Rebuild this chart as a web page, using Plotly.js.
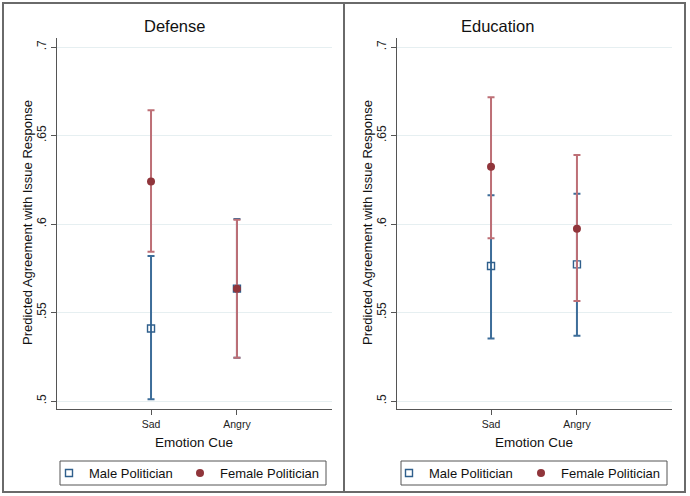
<!DOCTYPE html>
<html>
<head>
<meta charset="utf-8">
<script src="https://cdn.plot.ly/plotly-3.0.1.min.js"></script>
<style>html,body{margin:0;padding:0;background:#fff;}#chart{width:690px;height:496px;}</style>
</head>
<body>
<div id="chart"></div>
<script>
// ---- data ----
const categories = ['Sad', 'Angry'];
const panelTitles = ['Defense', 'Education'];
const seriesNames = ['Male Politician', 'Female Politician'];
const yTickVals = [0.5, 0.55, 0.6, 0.65, 0.7];
const yTickText = ['.5', '.55', '.6', '.65', '.7'];

// Defense
const defMaleEst = [0.541, 0.5635];
const defMaleLo = [0.501, 0.5245];
const defMaleHi = [0.582, 0.6028];
const defFemaleEst = [0.624, 0.5635];
const defFemaleLo = [0.5843, 0.5245];
const defFemaleHi = [0.6643, 0.6024];

// Education
const eduMaleEst = [0.5763, 0.5772];
const eduMaleLo = [0.5354, 0.5369];
const eduMaleHi = [0.6162, 0.6171];
const eduFemaleEst = [0.6324, 0.5974];
const eduFemaleLo = [0.5919, 0.5565];
const eduFemaleHi = [0.6716, 0.6390];

// ---- styling ----
const FONT = 'Liberation Sans, Arial, Helvetica, sans-serif';
const BLUE = '#2f5f8c';
const BLUE_CI = '#3d6d99';
const RED = '#90353b';
const RED_CI = '#bd6f76';
const xPos = categories.map((c, i) => i + 1);

function mkTrace(est, lo, hi, which, axisSuffix, legendId) {
  const male = which === 0;
  return {
    type: 'scatter', mode: 'markers',
    x: xPos, y: est,
    name: seriesNames[which],
    xaxis: 'x' + axisSuffix, yaxis: 'y' + axisSuffix,
    legend: legendId, showlegend: true,
    marker: male
      ? {symbol: 'square-open', size: 7, color: BLUE, line: {color: BLUE, width: 1.4}}
      : {symbol: 'circle', size: 8, color: RED},
    error_y: {
      type: 'data', symmetric: false,
      array: hi.map((h, i) => h - est[i]),
      arrayminus: lo.map((l, i) => est[i] - l),
      color: male ? BLUE_CI : RED_CI, thickness: 2, width: 3.5
    },
    hoverinfo: 'x+y'
  };
}

const traces = [
  mkTrace(defMaleEst, defMaleLo, defMaleHi, 0, '', 'legend'),
  mkTrace(defFemaleEst, defFemaleLo, defFemaleHi, 1, '', 'legend2'),
  mkTrace(eduMaleEst, eduMaleLo, eduMaleHi, 0, '2', 'legend3'),
  mkTrace(eduFemaleEst, eduFemaleLo, eduFemaleHi, 1, '2', 'legend4')
];

const W = 690, H = 496;
const px = v => v / W;
const py = v => 1 - v / H;

function xAxis(domain, anchor) {
  return {
    domain: domain, anchor: anchor, range: [-0.094, 3.106],
    tickvals: xPos, ticktext: categories,
    ticks: 'outside', ticklen: 5, tickcolor: '#555', tickwidth: 1,
    showline: true, linecolor: '#555', linewidth: 1,
    showgrid: false, zeroline: false,
    tickfont: {family: FONT, size: 10.5, color: '#222'},
    fixedrange: true
  };
}
function yAxis(domain, anchor) {
  return {
    domain: domain, anchor: anchor, range: [0.4955, 0.7051],
    tickvals: yTickVals, ticktext: yTickText, tickangle: -90,
    ticks: 'outside', ticklen: 5, tickcolor: '#555', tickwidth: 1,
    showline: true, linecolor: '#555', linewidth: 1,
    showgrid: true, gridcolor: '#e6eff1', gridwidth: 1, zeroline: false,
    tickfont: {family: FONT, size: 12, color: '#222'},
    fixedrange: true
  };
}

const yDom = [py(409), py(38)];
function mkLegend(xLeft) {
  return {
    orientation: 'h', borderwidth: 0, bgcolor: 'rgba(0,0,0,0)',
    font: {family: FONT, size: 13, color: '#111'},
    yanchor: 'middle', y: py(473), xanchor: 'left', x: px(xLeft),
    itemclick: false, itemdoubleclick: false
  };
}

const frameColor = '#6a6a6a';
const layout = {
  width: W, height: H, autosize: false,
  margin: {l: 0, r: 0, t: 0, b: 0},
  paper_bgcolor: '#fff', plot_bgcolor: '#fff',
  showlegend: true,
  xaxis: xAxis([px(57), px(332)], 'y'),
  yaxis: yAxis(yDom, 'x'),
  xaxis2: xAxis([px(397), px(672)], 'y2'),
  yaxis2: yAxis(yDom, 'x2'),
  legend: mkLegend(49),
  legend2: mkLegend(180),
  legend3: mkLegend(389),
  legend4: mkLegend(521),
  shapes: [
    {type: 'rect', xref: 'paper', yref: 'paper', x0: px(3), x1: px(685), y0: py(492), y1: py(3), line: {color: frameColor, width: 2}},
    {type: 'line', xref: 'paper', yref: 'paper', x0: px(344), x1: px(344), y0: py(492), y1: py(3), line: {color: frameColor, width: 2}},
    {type: 'rect', xref: 'paper', yref: 'paper', x0: px(60), x1: px(326), y0: py(485), y1: py(461), line: {color: '#555', width: 1}},
    {type: 'rect', xref: 'paper', yref: 'paper', x0: px(401), x1: px(667), y0: py(485), y1: py(461), line: {color: '#555', width: 1}}
  ],
  annotations: [
    {text: panelTitles[0], x: px(174), y: py(26), xref: 'paper', yref: 'paper', showarrow: false, xanchor: 'center', yanchor: 'middle', font: {family: FONT, size: 16.5, color: '#111'}},
    {text: panelTitles[1], x: px(497), y: py(26), xref: 'paper', yref: 'paper', showarrow: false, xanchor: 'center', yanchor: 'middle', font: {family: FONT, size: 16.5, color: '#111'}},
    {text: 'Emotion Cue', x: px(194), y: py(442), xref: 'paper', yref: 'paper', showarrow: false, xanchor: 'center', yanchor: 'middle', font: {family: FONT, size: 13.5, color: '#111'}},
    {text: 'Emotion Cue', x: px(534), y: py(442), xref: 'paper', yref: 'paper', showarrow: false, xanchor: 'center', yanchor: 'middle', font: {family: FONT, size: 13.5, color: '#111'}},
    {text: 'Predicted Agreement with Issue Response', x: px(27), y: py(223), xref: 'paper', yref: 'paper', showarrow: false, textangle: -90, xanchor: 'center', yanchor: 'middle', font: {family: FONT, size: 13, color: '#111'}},
    {text: 'Predicted Agreement with Issue Response', x: px(367), y: py(223), xref: 'paper', yref: 'paper', showarrow: false, textangle: -90, xanchor: 'center', yanchor: 'middle', font: {family: FONT, size: 13, color: '#111'}}
  ]
};

Plotly.newPlot('chart', traces, layout, {displayModeBar: false, staticPlot: true});
</script>
</body>
</html>
